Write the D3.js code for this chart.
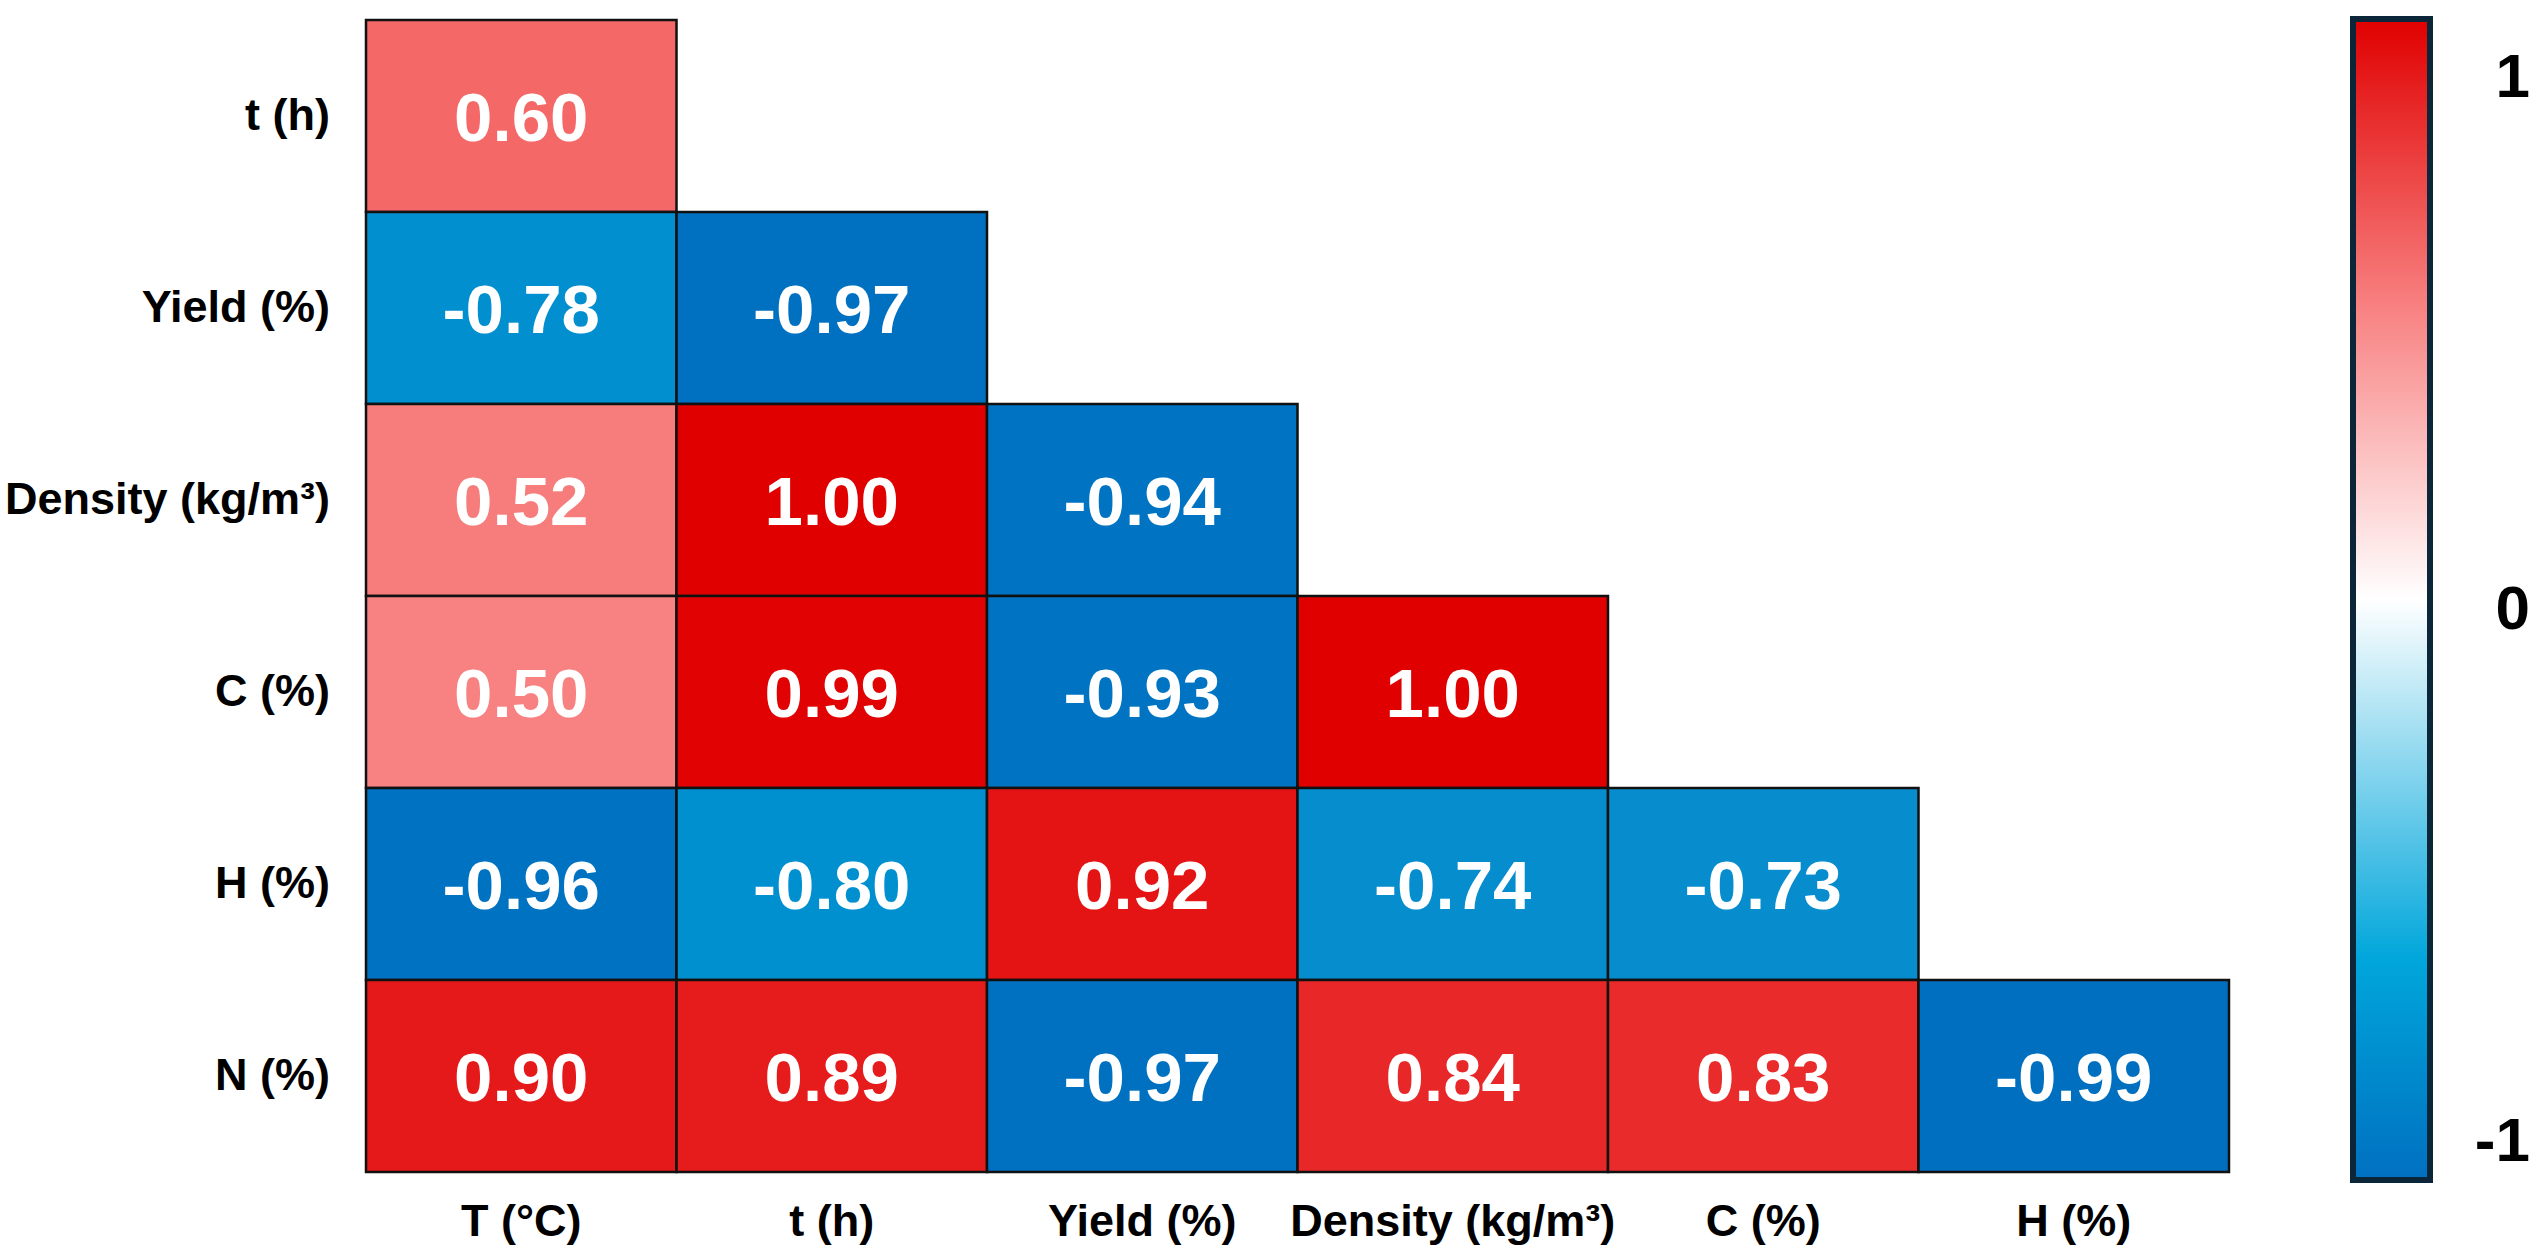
<!DOCTYPE html>
<html>
<head>
<meta charset="utf-8">
<script src="https://cdn.jsdelivr.net/npm/d3@7"></script>
<style>
  body { margin: 0; background: #fff; }
  svg { display: block; font-family: "Liberation Sans", Arial, sans-serif; }
</style>
</head>
<body>
<svg></svg>
<script>
        // Chart dimensions
        const width = 2546;
        const height = 1259;
        const margin = { top: 20, right: 317, bottom: 87, left: 366 };

        // Labels and correlation values (lower triangle, row by row)
        const rowLabels = ["t (h)", "Yield (%)", "Density (kg/m³)", "C (%)", "H (%)", "N (%)"];
        const colLabels = ["T (°C)", "t (h)", "Yield (%)", "Density (kg/m³)", "C (%)", "H (%)"];
        const values = [
            [0.60],
            [-0.78, -0.97],
            [0.52, 1.00, -0.94],
            [0.50, 0.99, -0.93, 1.00],
            [-0.96, -0.80, 0.92, -0.74, -0.73],
            [0.90, 0.89, -0.97, 0.84, 0.83, -0.99]
        ];
        const barTicks = [-1, 0, 1];

        const svg = d3.select("svg")
            .attr("width", width)
            .attr("height", height);

        const cells = [];
        values.forEach((row, r) => row.forEach((v, c) => cells.push({ r, c, v })));

        // Band scales for the grid
        const x = d3.scaleBand()
            .domain(d3.range(colLabels.length))
            .range([margin.left, width - margin.right]);
        const y = d3.scaleBand()
            .domain(d3.range(rowLabels.length))
            .range([margin.top, height - margin.bottom]);

        // Colour scale (diverging, blue - white - red)
        const color = d3.scaleLinear()
            .domain([-1, -0.92, -0.8, -0.7, 0, 0.5, 0.6, 0.84, 1])
            .range(["#006ebf", "#0075c4", "#0090d0", "#0a8bcc", "#ffffff", "#f88282", "#f46868", "#e82828", "#e00000"])
            .clamp(true);

        // Cells
        const g = svg.append("g");
        g.selectAll("rect")
            .data(cells)
            .join("rect")
            .attr("x", d => x(d.c))
            .attr("y", d => y(d.r))
            .attr("width", x.bandwidth())
            .attr("height", y.bandwidth())
            .attr("fill", d => color(d.v))
            .attr("stroke", "#111")
            .attr("stroke-width", 2.5);

        g.selectAll("text")
            .data(cells)
            .join("text")
            .attr("x", d => x(d.c) + x.bandwidth() / 2)
            .attr("y", d => y(d.r) + y.bandwidth() / 2)
            .attr("dy", "0.36em")
            .attr("text-anchor", "middle")
            .attr("fill", "#fff")
            .style("font-size", "69px")
            .style("font-weight", "bold")
            .text(d => d.v.toFixed(2));

        // Axis labels
        svg.append("g")
            .attr("transform", `translate(${margin.left - 36},0)`)
            .call(d3.axisLeft(y).tickSize(0).tickFormat(i => rowLabels[i]))
            .call(a => a.select(".domain").remove())
            .selectAll("text")
            .attr("x", 0)
            .attr("fill", "#000")
            .style("font-family", "'Liberation Sans', Arial, sans-serif")
            .style("font-size", "45px")
            .style("font-weight", "bold");

        svg.append("g")
            .attr("transform", `translate(0,${height - margin.bottom + 32})`)
            .call(d3.axisBottom(x).tickSize(0).tickFormat(i => colLabels[i]))
            .call(a => a.select(".domain").remove())
            .selectAll("text")
            .attr("y", 0)
            .attr("dy", "0.71em")
            .attr("fill", "#000")
            .style("font-family", "'Liberation Sans', Arial, sans-serif")
            .style("font-size", "45px")
            .style("font-weight", "bold");

        // Colour bar
        const barX = 2353, barW = 77, barTop = 19, barBottom = 1180;
        const defs = svg.append("defs");
        const grad = defs.append("linearGradient")
            .attr("id", "cbar")
            .attr("x1", 0).attr("y1", 1).attr("x2", 0).attr("y2", 0);
        const barStops = [
            { o: 0, c: "#0070c0" },
            { o: 0.19, c: "#00a6db" },
            { o: 0.5, c: "#ffffff" },
            { o: 0.75, c: "#f88282" },
            { o: 1, c: "#e00000" }
        ];
        grad.selectAll("stop")
            .data(barStops)
            .join("stop")
            .attr("offset", d => d.o)
            .attr("stop-color", d => d.c);

        svg.append("rect")
            .attr("x", barX)
            .attr("y", barTop)
            .attr("width", barW)
            .attr("height", barBottom - barTop)
            .attr("fill", "url(#cbar)")
            .attr("stroke", "#0b2638")
            .attr("stroke-width", 6);

        const yBar = d3.scaleLinear().domain([-1, 1]).range([1139, 75]);
        svg.append("g")
            .selectAll("text")
            .data(barTicks)
            .join("text")
            .attr("x", 2530)
            .attr("y", d => yBar(d))
            .attr("dy", "0.36em")
            .attr("text-anchor", "end")
            .style("font-size", "62px")
            .style("font-weight", "bold")
            .text(d => d < 0 ? "-" + Math.abs(d) : d);
</script>
</body>
</html>
